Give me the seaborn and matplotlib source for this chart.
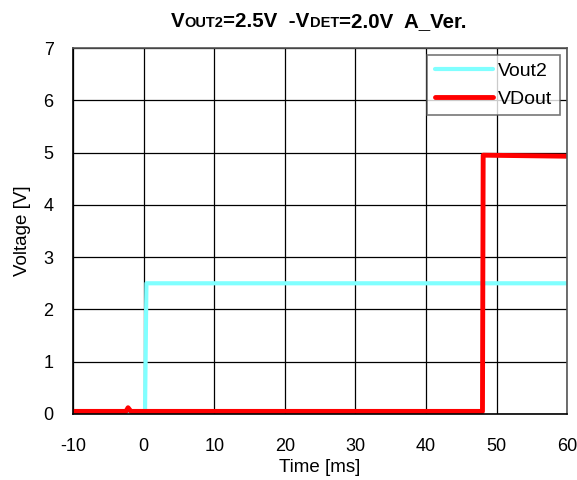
import pandas as pd
import matplotlib
matplotlib.use('Agg')
import matplotlib.pyplot as plt
import seaborn as sns
from matplotlib.offsetbox import TextArea, HPacker, AnnotationBbox

# Waveform breakpoints read from the scope capture
vout2_time = [-10, 0.2, 0.4, 60]
vout2_volt = [0.0, 0.0, 2.5, 2.5]
vdout_time = [-10, -2.5, -2.2, -1.8, 48.0, 48.1, 60]
vdout_volt = [0.05, 0.05, 0.12, 0.05, 0.05, 4.95, 4.93]

x_ticks = [-10, 0, 10, 20, 30, 40, 50, 60]
y_ticks = [0, 1, 2, 3, 4, 5, 6, 7]

# title pieces: (text, small caps?)
title_parts = [('V', False), ('OUT2', True), ('=2.5V  -V', False), ('DET', True), ('=2.0V  A_Ver.', False)]

sns.set_style('white')
plt.rcParams['font.family'] = ['Liberation Sans', 'DejaVu Sans']
plt.rcParams['axes.unicode_minus'] = False
plt.rcParams['text.color'] = 'black'
plt.rcParams['axes.labelcolor'] = 'black'
plt.rcParams['xtick.color'] = 'black'
plt.rcParams['ytick.color'] = 'black'

df = pd.concat([
    pd.DataFrame({'Time': vout2_time, 'Voltage': vout2_volt, 'Signal': 'Vout2'}),
    pd.DataFrame({'Time': vdout_time, 'Voltage': vdout_volt, 'Signal': 'VDout'}),
])

fig = plt.figure(figsize=(5.77, 4.8), dpi=100)
ax = fig.add_axes([0.1265, 0.1375, 0.8565, 0.7625])

sns.lineplot(data=df[df['Signal'] == 'Vout2'], x='Time', y='Voltage', color='#80FFFF',
             lw=3, ax=ax, label='Vout2', estimator=None, sort=False)
sns.lineplot(data=df[df['Signal'] == 'VDout'], x='Time', y='Voltage', color='#FF0000',
             lw=3.5, ax=ax, label='VDout', estimator=None, sort=False)

ax.set_xlim(-10, 60)
ax.set_ylim(0, 7)
ax.set_xticks(x_ticks)
ax.set_yticks(y_ticks)
ax.tick_params(labelsize=13, length=0)
ax.tick_params(axis='x', pad=17)
ax.tick_params(axis='y', pad=14)
ax.grid(True, color='black', lw=0.9)
ax.set_axisbelow(True)
for s in ax.spines.values():
    s.set_color('#555555')
    s.set_linewidth(1.2)
ax.spines['left'].set_color('black')
ax.spines['bottom'].set_color('black')

ax.set_xlabel('Time [ms]', fontsize=13.5, labelpad=3)
ax.set_ylabel('Voltage [V]', fontsize=13.5, labelpad=9)

# title with small caps for OUT2 / DET
areas = [TextArea(t, textprops=dict(fontsize=10.5 if small else 14.8, fontweight='bold'))
         for t, small in title_parts]
pack = HPacker(children=areas, align='baseline', pad=0, sep=0)
fig.add_artist(AnnotationBbox(pack, (0.552, 0.956), xycoords='figure fraction',
                              frameon=False, box_alignment=(0.5, 0.5)))

leg = ax.legend(loc='upper right', fontsize=14, frameon=True, fancybox=False,
                handlelength=3.0, borderaxespad=0.35, handletextpad=0.25,
                borderpad=0.4, labelspacing=0.5)
leg.get_frame().set_edgecolor('#555555')
leg.get_frame().set_linewidth(1.2)

fig.savefig('out.png', dpi=100)
